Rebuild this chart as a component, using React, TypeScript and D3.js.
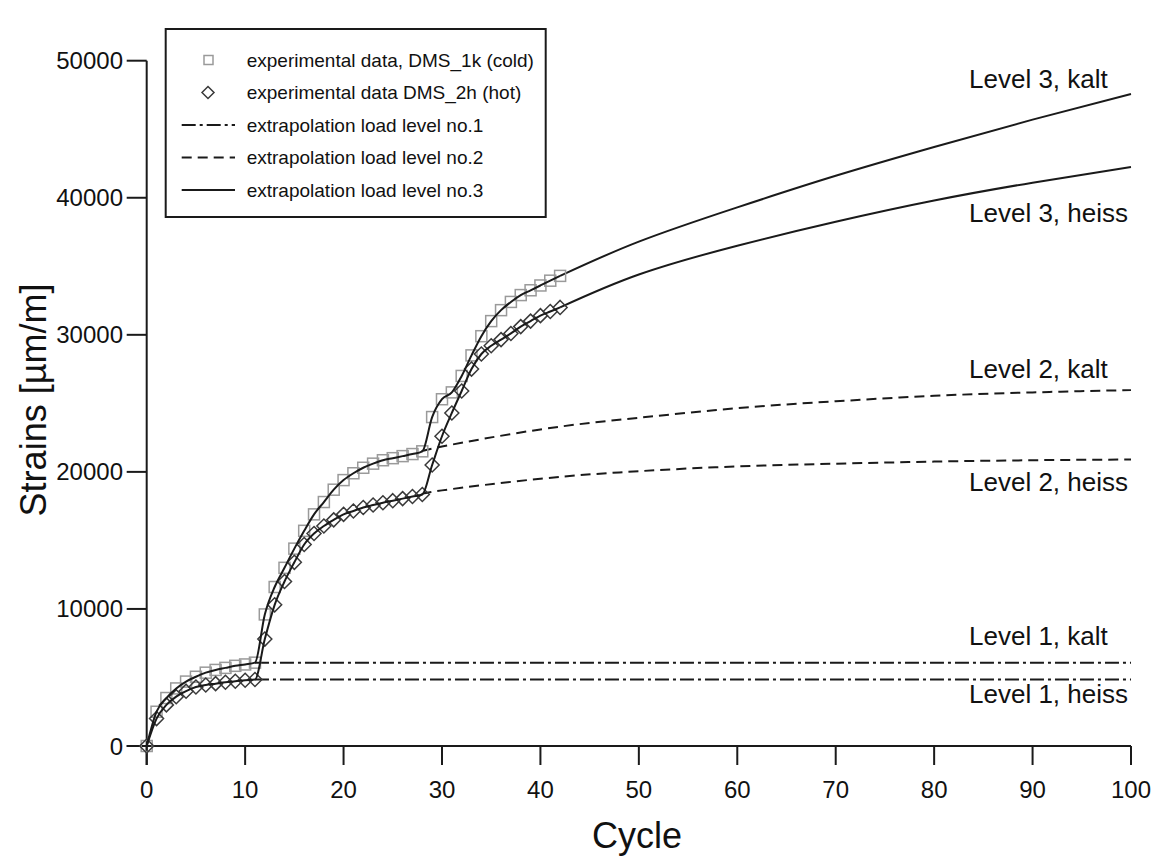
import React from "react";
import * as d3 from "d3";

// ---- data ----
const cycles = d3.range(0, 43);
const coldValues = [
  0, 2500, 3500, 4200, 4700, 5050, 5350, 5550, 5700, 5850, 5950, 6080,
  9600, 11600, 13000, 14400, 15700, 16900, 17800, 18700, 19400, 19900, 20300,
  20600, 20850, 21000, 21150, 21300, 21500,
  24000, 25300, 25800, 27000, 28500, 29900, 31000, 31800, 32400, 32900, 33250,
  33600, 33950, 34300,
];
const hotValues = [
  0, 2000, 3000, 3600, 4000, 4300, 4450, 4550, 4650, 4720, 4800, 4850,
  7800, 10300, 12000, 13400, 14700, 15500, 16050, 16500, 16900, 17150, 17400,
  17580, 17750, 17900, 18050, 18200, 18350,
  20500, 22600, 24300, 25900, 27500, 28600, 29200, 29650, 30100, 30600, 31000,
  31400, 31700, 32000,
];

const lvl1Cycles = [11, 100];
const lvl1Cold = [6080, 6080];
const lvl1Hot = [4850, 4850];

const lvl2Cycles = [28, 30, 40, 50, 60, 70, 80, 90, 100];
const lvl2Cold = [21500, 21850, 23100, 23950, 24650, 25150, 25550, 25800, 25970];
const lvl2Hot = [18350, 18650, 19500, 20050, 20400, 20600, 20750, 20850, 20900];

const lvl3Cycles = [42, 50, 60, 70, 80, 90, 100];
const lvl3Cold = [34300, 36800, 39300, 41600, 43700, 45700, 47570];
const lvl3Hot = [32000, 34400, 36500, 38250, 39800, 41100, 42240];

const xTicks = [0, 10, 20, 30, 40, 50, 60, 70, 80, 90, 100];
const yTicks = [0, 10000, 20000, 30000, 40000, 50000];

const endLabels = [
  { text: "Level 3, kalt", y: 88 },
  { text: "Level 3, heiss", y: 222 },
  { text: "Level 2, kalt", y: 378 },
  { text: "Level 2, heiss", y: 491 },
  { text: "Level 1, kalt", y: 645 },
  { text: "Level 1, heiss", y: 703 },
];

const legendItems = [
  { label: "experimental data, DMS_1k (cold)", kind: "square" },
  { label: "experimental data DMS_2h (hot)", kind: "diamond" },
  { label: "extrapolation load level no.1", kind: "dashdot" },
  { label: "extrapolation load level no.2", kind: "dash" },
  { label: "extrapolation load level no.3", kind: "solid" },
];

const FONT = "Liberation Sans, Arial, Helvetica, sans-serif";
const LINE = "#1a1a1a";
const DASHDOT = "14 4 3 4";
const DASH = "10 6";

export default function App() {
  const x = d3.scaleLinear().domain([0, 100]).range([146.7, 1131]);
  const y = d3.scaleLinear().domain([0, 50000]).range([746, 60.7]);

  const mk = (xs: number[], ys: number[], curve: d3.CurveFactory = d3.curveMonotoneX) =>
    d3
      .line<number>()
      .x((_, i) => x(xs[i]))
      .y((v) => y(v))
      .curve(curve)(ys) as string;

  const diamond = (cx: number, cy: number, r: number) =>
    `M${cx},${cy - r}L${cx + r},${cy}L${cx},${cy + r}L${cx - r},${cy}Z`;

  const legX = 165.7;
  const legY = 29;
  const legRow = (i: number) => 60 + i * 32.5;

  return (
    <svg
      width={1160}
      height={861}
      style={{ position: "absolute", left: 0, top: 0, background: "#fff" }}
      fontFamily={FONT}
    >
      <rect x={0} y={0} width={1160} height={861} fill="#fff" />

      {/* axes */}
      <line x1={146.7} x2={146.7} y1={60.7} y2={765} stroke={LINE} strokeWidth={2} />
      <line x1={126.7} x2={1131} y1={746} y2={746} stroke={LINE} strokeWidth={2} />
      {yTicks.map((t) => (
        <g key={"y" + t}>
          <line x1={126.7} x2={146.7} y1={y(t)} y2={y(t)} stroke={LINE} strokeWidth={2} />
          <text x={123} y={y(t) + 8.5} fontSize={24} textAnchor="end" fill="#111">
            {t}
          </text>
        </g>
      ))}
      {xTicks.map((t) => (
        <g key={"x" + t}>
          <line x1={x(t)} x2={x(t)} y1={746} y2={765} stroke={LINE} strokeWidth={2} />
          <text x={x(t)} y={798} fontSize={24} textAnchor="middle" fill="#111">
            {t}
          </text>
        </g>
      ))}

      <text x={637} y={848} fontSize={36} textAnchor="middle" fill="#111">
        Cycle
      </text>
      <text
        transform={`translate(46,400) rotate(-90)`}
        fontSize={36}
        textAnchor="middle"
        fill="#111"
      >
        Strains [µm/m]
      </text>

      {/* extrapolations */}
      <path d={mk(lvl1Cycles, lvl1Cold)} fill="none" stroke={LINE} strokeWidth={2} strokeDasharray={DASHDOT} />
      <path d={mk(lvl1Cycles, lvl1Hot)} fill="none" stroke={LINE} strokeWidth={2} strokeDasharray={DASHDOT} />
      <path d={mk(lvl2Cycles, lvl2Cold, d3.curveNatural)} fill="none" stroke={LINE} strokeWidth={2} strokeDasharray={DASH} />
      <path d={mk(lvl2Cycles, lvl2Hot, d3.curveNatural)} fill="none" stroke={LINE} strokeWidth={2} strokeDasharray={DASH} />
      <path d={mk(lvl3Cycles, lvl3Cold, d3.curveNatural)} fill="none" stroke={LINE} strokeWidth={2} />
      <path d={mk(lvl3Cycles, lvl3Hot, d3.curveNatural)} fill="none" stroke={LINE} strokeWidth={2} />

      {/* markers */}
      {cycles.map((c, i) => (
        <rect
          key={"s" + c}
          x={x(c) - 5.5}
          y={y(coldValues[i]) - 5.5}
          width={11}
          height={11}
          fill="none"
          stroke="#9a9a9a"
          strokeWidth={1.5}
        />
      ))}
      {cycles.map((c, i) => (
        <path
          key={"d" + c}
          d={diamond(x(c), y(hotValues[i]), 7)}
          fill="none"
          stroke="#3a3a3a"
          strokeWidth={1.5}
        />
      ))}

      {/* fitted lines through data */}
      <path d={mk(cycles, coldValues)} fill="none" stroke={LINE} strokeWidth={2} />
      <path d={mk(cycles, hotValues)} fill="none" stroke={LINE} strokeWidth={2} />

      {/* end labels */}
      {endLabels.map((l) => (
        <text key={l.text} x={969} y={l.y} fontSize={26} fill="#111">
          {l.text}
        </text>
      ))}

      {/* legend */}
      <rect x={legX} y={legY} width={380} height={188} fill="#fff" stroke={LINE} strokeWidth={2} />
      {legendItems.map((it, i) => {
        const cy = legRow(i);
        let sym: React.ReactNode = null;
        if (it.kind === "square")
          sym = <rect x={204} y={cy - 4.5} width={9} height={9} fill="none" stroke="#9a9a9a" strokeWidth={1.5} />;
        else if (it.kind === "diamond")
          sym = <path d={diamond(208, cy, 6)} fill="none" stroke="#3a3a3a" strokeWidth={1.5} />;
        else
          sym = (
            <line
              x1={181.7}
              x2={235}
              y1={cy}
              y2={cy}
              stroke={LINE}
              strokeWidth={2}
              strokeDasharray={it.kind === "dashdot" ? DASHDOT : it.kind === "dash" ? DASH : undefined}
            />
          );
        return (
          <g key={it.label}>
            {sym}
            <text x={246.7} y={cy + 6.5} fontSize={19} fill="#111">
              {it.label}
            </text>
          </g>
        );
      })}
    </svg>
  );
}
